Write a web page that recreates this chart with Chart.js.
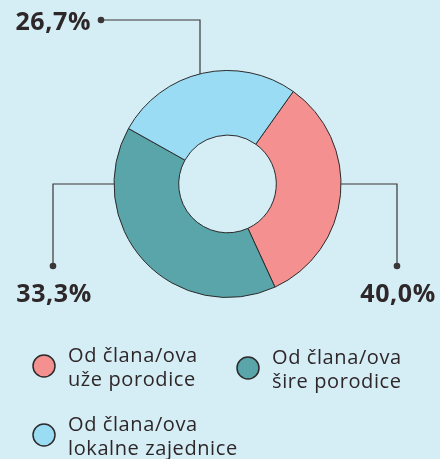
<!DOCTYPE html>
<html>
<head>
<meta charset="utf-8">
<script src="https://cdn.jsdelivr.net/npm/chart.js@4"></script>
<style>
  html, body { margin: 0; padding: 0; background: #d5edf4; }
  #wrap { position: relative; width: 440px; height: 459px; }
</style>
</head>
<body>
<div id="wrap"><canvas id="chart" width="440" height="459"></canvas></div>
<script>
// podaci
const categories = ['Od člana/ova uže porodice', 'Od člana/ova šire porodice', 'Od člana/ova lokalne zajednice'];
const legendLines = [['Od člana/ova', 'uže porodice'], ['Od člana/ova', 'šire porodice'], ['Od člana/ova', 'lokalne zajednice']];
const shares = [33.3, 40.0, 26.7];
const calloutLabels = ['40,0%', '33,3%', '26,7%'];
const colors = ['#f49190', '#5aa5aa', '#9adcf3'];

const textColor = '#2e2729';
const lineColor = '#3a3637';

// oznake sa linijama i legenda
const calloutPlugin = {
  id: 'callouts',
  afterDraw(chart) {
    const ctx = chart.ctx;
    const arc = chart.getDatasetMeta(0).data[0];
    const cx = arc.x, cy = arc.y, R = arc.outerRadius;
    ctx.save();
    ctx.strokeStyle = lineColor;
    ctx.fillStyle = lineColor;
    ctx.lineWidth = 1.2;

    function dot(x, y) {
      ctx.beginPath();
      ctx.arc(x, y, 3.3, 0, Math.PI * 2);
      ctx.fill();
    }

    // desno
    ctx.beginPath();
    ctx.moveTo(cx + R, cy);
    ctx.lineTo(397, cy);
    ctx.lineTo(397, 266);
    ctx.stroke();
    dot(397, 266);
    // lijevo
    ctx.beginPath();
    ctx.moveTo(cx - R, cy);
    ctx.lineTo(53, cy);
    ctx.lineTo(53, 266);
    ctx.stroke();
    dot(53, 266);
    // gore
    const tx = cx - 27.5;
    const ty = cy - Math.sqrt(R * R - 27.5 * 27.5);
    ctx.beginPath();
    ctx.moveTo(tx, ty);
    ctx.lineTo(tx, 20);
    ctx.lineTo(101, 20);
    ctx.stroke();
    dot(101, 20);

    ctx.fillStyle = textColor;
    ctx.font = 'bold 25px "Open Sans"';
    ctx.letterSpacing = '0.6px';
    ctx.textBaseline = 'alphabetic';
    ctx.textAlign = 'center';
    ctx.fillText(calloutLabels[0], 398, 302);
    ctx.fillText(calloutLabels[1], 54, 302);
    ctx.textAlign = 'right';
    ctx.fillText(calloutLabels[2], 91, 30);

    // legenda
    const items = [[44, 366], [248, 368], [44, 435]];
    items.forEach((p, i) => {
      ctx.beginPath();
      ctx.arc(p[0], p[1], 11, 0, Math.PI * 2);
      ctx.fillStyle = colors[i];
      ctx.fill();
      ctx.lineWidth = 1.5;
      ctx.strokeStyle = '#2b2b2b';
      ctx.stroke();
      ctx.fillStyle = textColor;
      ctx.font = '20px "Open Sans"';
      ctx.letterSpacing = '0.6px';
      ctx.textAlign = 'left';
      ctx.fillText(legendLines[i][0], p[0] + 24, p[1] - 4);
      ctx.fillText(legendLines[i][1], p[0] + 24, p[1] + 20);
    });
    ctx.restore();
  }
};

new Chart(document.getElementById('chart'), {
  type: 'doughnut',
  data: {
    labels: categories,
    datasets: [{
      data: shares,
      backgroundColor: colors,
      borderColor: '#2b2b2b',
      borderWidth: 1
    }]
  },
  options: {
    responsive: false,
    animation: false,
    rotation: 35.4,
    cutout: '43%',
    layout: {
      padding: { left: 113.5, right: 98.5, top: 70, bottom: 161 }
    },
    plugins: {
      legend: { display: false },
      tooltip: { enabled: false }
    }
  },
  plugins: [calloutPlugin]
});
</script>
</body>
</html>
